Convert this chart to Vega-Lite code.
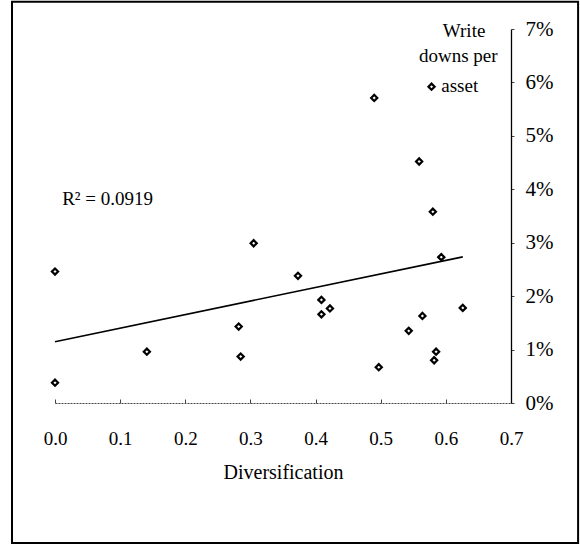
{
  "$schema": "https://vega.github.io/schema/vega-lite/v6.json",
  "autosize": {"type": "none"},
  "padding": {"left": 55, "top": 29, "right": 69, "bottom": 143},
  "width": 456,
  "height": 374,
  "background": "white",
  "config": {
    "view": {"stroke": null},
    "font": "Liberation Serif",
    "text": {"font": "Liberation Serif", "color": "black"}
  },
  "data": {
    "values": [
      {"diversification": 0.0, "writedowns": 0.0246},
      {"diversification": 0.0, "writedowns": 0.0038},
      {"diversification": 0.141, "writedowns": 0.0096},
      {"diversification": 0.282, "writedowns": 0.0143},
      {"diversification": 0.285, "writedowns": 0.0087},
      {"diversification": 0.305, "writedowns": 0.0299},
      {"diversification": 0.373, "writedowns": 0.0238},
      {"diversification": 0.409, "writedowns": 0.0193},
      {"diversification": 0.422, "writedowns": 0.0177},
      {"diversification": 0.409, "writedowns": 0.0166},
      {"diversification": 0.49, "writedowns": 0.0571},
      {"diversification": 0.497, "writedowns": 0.0067},
      {"diversification": 0.559, "writedowns": 0.0452},
      {"diversification": 0.543, "writedowns": 0.0135},
      {"diversification": 0.564, "writedowns": 0.0163},
      {"diversification": 0.58, "writedowns": 0.0358},
      {"diversification": 0.593, "writedowns": 0.0273},
      {"diversification": 0.585, "writedowns": 0.0096},
      {"diversification": 0.582, "writedowns": 0.008},
      {"diversification": 0.626, "writedowns": 0.0178},
      {"diversification": 0.578, "writedowns": 0.0592}
    ]
  },
  "layer": [
    {
      "data": {"values": [{}]},
      "mark": {"type": "rect", "fill": null, "filled": false, "stroke": "black", "strokeWidth": 2},
      "encoding": {
        "x": {"datum": -0.066, "type": "quantitative"},
        "x2": {"datum": 0.803},
        "y": {"datum": 0.0751, "type": "quantitative"},
        "y2": {"datum": -0.0262}
      }
    },
    {
      "mark": {"type": "point", "shape": "diamond", "filled": true, "fill": "white", "stroke": "black", "strokeWidth": 2.2, "size": 38, "opacity": 1},
      "encoding": {
        "x": {
          "field": "diversification", "type": "quantitative",
          "scale": {"domain": [0, 0.7], "nice": false, "zero": false},
          "axis": {
            "orient": "bottom", "values": [0, 0.1, 0.2, 0.3, 0.4, 0.5, 0.6, 0.7], "format": ".1f",
            "grid": false, "domainColor": "#444", "domainDash": [2, 1], "domainWidth": 1,
            "tickColor": "#444", "tickSize": -4, "tickWidth": 1,
            "labelFont": "Liberation Serif", "labelFontSize": 19, "labelColor": "black", "labelPadding": 30,
            "labelFlush": false,
            "title": "Diversification", "titleFont": "Liberation Serif", "titleFontSize": 20,
            "titleFontWeight": "normal", "titleColor": "black", "titlePadding": 14
          }
        },
        "y": {
          "field": "writedowns", "type": "quantitative",
          "scale": {"domain": [0, 0.07], "nice": false, "zero": true},
          "axis": {
            "orient": "right", "values": [0, 0.01, 0.02, 0.03, 0.04, 0.05, 0.06, 0.07], "format": ".0%",
            "grid": false, "domainColor": "black", "domainWidth": 1.3,
            "tickColor": "#444", "tickSize": 3, "tickWidth": 1,
            "labelFont": "Liberation Serif", "labelFontSize": 21, "labelColor": "black", "labelPadding": 11,
            "labelFlush": false, "title": null
          }
        }
      }
    },
    {
      "transform": [{"regression": "writedowns", "on": "diversification"}],
      "mark": {"type": "line", "color": "black", "strokeWidth": 1.6},
      "encoding": {
        "x": {"field": "diversification", "type": "quantitative"},
        "y": {"field": "writedowns", "type": "quantitative"}
      }
    },
    {
      "data": {"values": [{}]},
      "mark": {"type": "text", "text": "R² = 0.0919", "align": "left", "baseline": "alphabetic", "fontSize": 19},
      "encoding": {
        "x": {"datum": 0.011, "type": "quantitative"},
        "y": {"datum": 0.0371, "type": "quantitative"}
      }
    },
    {
      "data": {"values": [{}]},
      "mark": {"type": "text", "text": "Write", "align": "center", "baseline": "alphabetic", "fontSize": 19},
      "encoding": {
        "x": {"datum": 0.628, "type": "quantitative"},
        "y": {"datum": 0.0685, "type": "quantitative"}
      }
    },
    {
      "data": {"values": [{}]},
      "mark": {"type": "text", "text": "downs per", "align": "center", "baseline": "alphabetic", "fontSize": 19},
      "encoding": {
        "x": {"datum": 0.619, "type": "quantitative"},
        "y": {"datum": 0.0638, "type": "quantitative"}
      }
    },
    {
      "data": {"values": [{}]},
      "mark": {"type": "text", "text": "asset", "align": "left", "baseline": "alphabetic", "fontSize": 19},
      "encoding": {
        "x": {"datum": 0.593, "type": "quantitative"},
        "y": {"datum": 0.0582, "type": "quantitative"}
      }
    }
  ]
}
